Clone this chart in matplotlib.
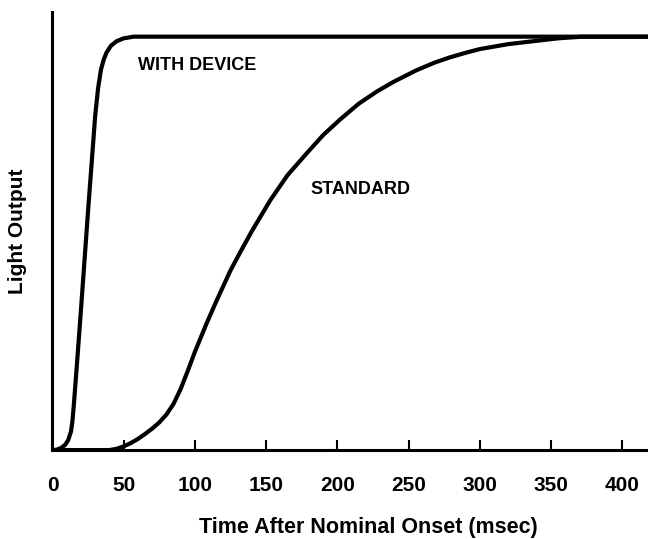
import matplotlib
matplotlib.use("Agg")
import matplotlib.pyplot as plt

# time (msec) and relative light output
t_device = [0, 3, 6, 9, 11, 13, 14, 15, 17, 20, 25, 30, 32, 34, 36, 38, 41,
            45, 50, 57, 420]
y_device = [0, 0.001, 0.005, 0.013, 0.024, 0.045, 0.07, 0.11, 0.2, 0.34,
            0.58, 0.81, 0.875, 0.92, 0.945, 0.962, 0.978, 0.989, 0.996, 1.0,
            1.0]

t_standard = [0, 40, 45, 50, 55, 60, 65, 70, 75, 80, 85, 90, 95, 100, 108,
              115, 125, 132, 140, 153, 165, 179, 190, 202, 215, 228, 239, 255,
              268, 279, 290, 300, 320, 340, 355, 372, 420]
y_standard = [0, 0, 0.003, 0.009, 0.017, 0.027, 0.039, 0.052, 0.067, 0.086,
              0.112, 0.148, 0.192, 0.238, 0.305, 0.36, 0.435, 0.48, 0.53,
              0.605, 0.665, 0.72, 0.762, 0.80, 0.838, 0.868, 0.89, 0.918,
              0.937, 0.95, 0.961, 0.97, 0.982, 0.99, 0.996, 1.0, 1.0]

xticks = [0, 50, 100, 150, 200, 250, 300, 350, 400]

plt.rcParams['font.family'] = ['Liberation Sans', 'DejaVu Sans']

fig = plt.figure(figsize=(6.48, 5.39), dpi=100)
ax = fig.add_axes([0.081, 0.165, 0.919, 0.813])

ax.plot(t_device, y_device, color='black', lw=3, solid_capstyle='round')
ax.plot(t_standard, y_standard, color='black', lw=3, solid_capstyle='round')

ax.text(60, 0.93, 'WITH DEVICE', fontsize=13, fontweight='bold', va='center')
ax.text(181, 0.63, 'STANDARD', fontsize=13, fontweight='bold', va='center')

ax.set_xlim(0, 418)
ax.set_ylim(0, 1.06)
ax.set_xticks(xticks)
ax.set_yticks([])
ax.tick_params(axis='x', direction='in', length=7, width=1.5, pad=19,
               labelsize=15)
for lab in ax.get_xticklabels():
    lab.set_fontweight('bold')

ax.spines['top'].set_visible(False)
ax.spines['right'].set_visible(False)
ax.spines['left'].set_linewidth(2.2)
ax.spines['bottom'].set_linewidth(2.2)

ax.set_xlabel('Time After Nominal Onset (msec)', fontsize=15.5,
              fontweight='bold')
ax.xaxis.set_label_coords(0.53, -0.153)
ax.set_ylabel('Light Output', fontsize=15, fontweight='bold', labelpad=18)

fig.savefig('out.png', dpi=100)
